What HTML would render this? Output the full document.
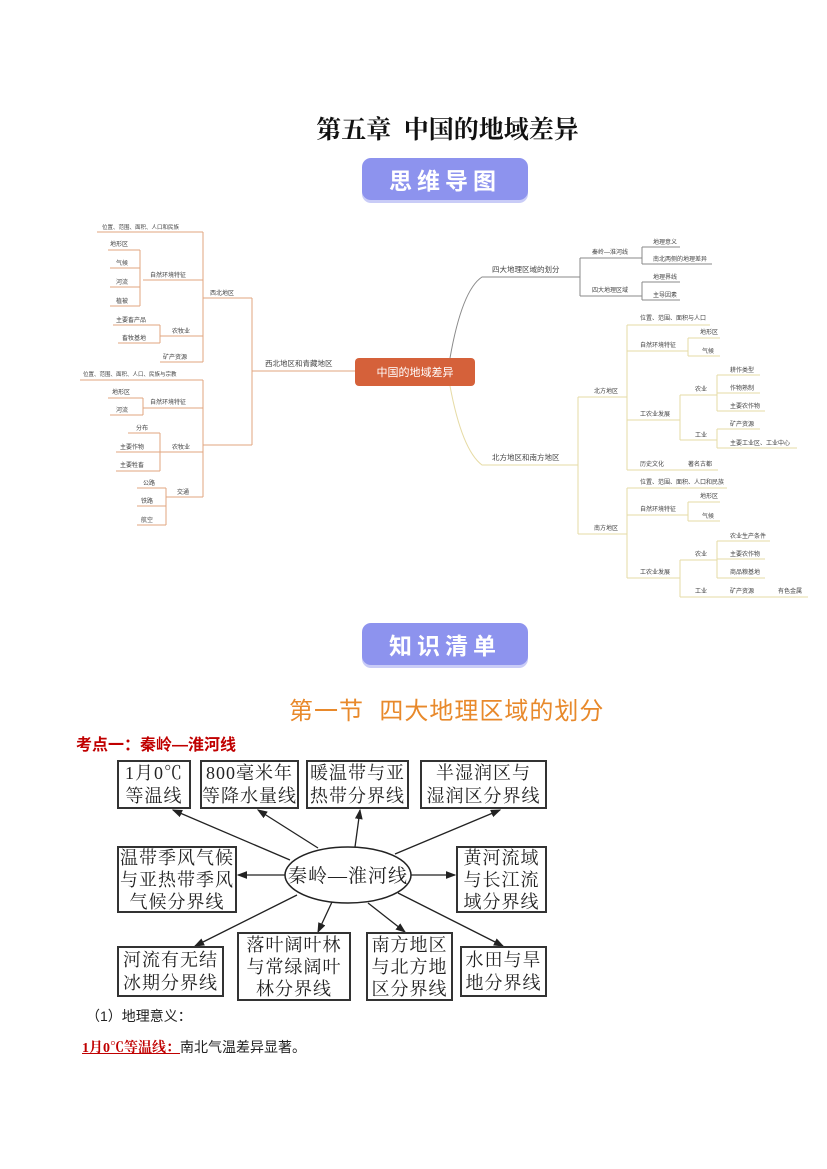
<!DOCTYPE html>
<html><head><meta charset="utf-8">
<style>
body{margin:0;background:#fff;}
#p{position:relative;width:827px;height:1169px;overflow:hidden;font-family:"Liberation Sans","Noto Sans CJK SC",sans-serif;}
.a{position:absolute;}
.bx{position:absolute;border:2px solid #333;box-sizing:border-box;display:flex;align-items:center;justify-content:center;text-align:center;font-family:"Liberation Serif","Noto Serif CJK SC",serif;font-size:18px;line-height:23px;letter-spacing:1px;white-space:nowrap;color:#222;background:#fff;}
.ban{position:absolute;width:166px;height:42px;background:#8d93ee;border-radius:9px;color:#fff;font-weight:bold;font-size:23px;letter-spacing:5px;display:flex;align-items:center;justify-content:center;box-shadow:0 3px 0 #c9ccf7;}
svg text{font-family:"Liberation Sans","Noto Sans CJK SC",sans-serif;fill:#444;}
</style></head><body><div id="p">
<div class="a" style="left:0;width:895px;top:110px;text-align:center;font-family:'Liberation Serif','Noto Serif CJK SC',serif;font-weight:bold;font-size:25px;color:#111;">第五章&nbsp; 中国的地域差异</div>
<div class="ban" style="left:362px;top:158px;">思维导图</div>
<div class="ban" style="left:362px;top:623px;">知识清单</div>
<div class="a" style="left:289px;top:691px;font-size:24px;color:#e8892b;letter-spacing:1px;white-space:nowrap;">第一节&nbsp; 四大地理区域的划分</div>
<div class="a" style="left:76px;top:731px;font-size:16px;font-weight:bold;color:#c00000;">考点一：秦岭—淮河线</div>

<svg class="a" style="left:0;top:0" width="827" height="1169">
<g fill="none" stroke-width="1">
<g stroke="#e2a57f">
<path d="M355,371 L252,371 M252,298 L252,445 M203,298 L252,298 M203,445 L252,445"/>
<path d="M203,232 L203,362 M97,232 L203,232 M143,280 L203,280 M160,336 L203,336 M160,362 L203,362"/>
<path d="M140,250 L140,306 M108,250 L140,250 M110,268 L140,268 M110,287 L140,287 M110,306 L140,306"/>
<path d="M160,325 L160,343 M113,325 L160,325 M118,343 L160,343"/>
<path d="M203,380 L203,497 M80,380 L203,380 M143,408 L203,408 M160,452 L203,452 M166,497 L203,497"/>
<path d="M143,398 L143,415 M108,398 L143,398 M110,415 L143,415"/>
<path d="M160,433 L160,471 M128,433 L160,433 M116,452 L160,452 M116,471 L160,471"/>
<path d="M166,488 L166,525 M137,488 L166,488 M137,506 L166,506 M137,525 L166,525"/>
</g>
<g stroke="#8a8a8a">
<path d="M450,358 Q462,290 482,277 L580,277 M580,258 L580,296 M580,258 L640,258 M580,296 L640,296"/>
<path d="M642,247 L642,264 M640,258 L642,258 M642,247 L680,247 M642,264 L712,264 M642,282 L642,300 M640,296 L642,296 M642,282 L680,282 M642,300 L680,300"/>
</g>
<g stroke="#e6dba5">
<path d="M450,386 Q462,450 482,465 L578,465 M578,397 L578,534 M578,397 L627,397 M578,534 L627,534"/>
<path d="M627,325 L627,470 M627,325 L710,325 M627,351 L688,351 M627,420 L680,420 M627,470 L718,470"/>
<path d="M688,338 L688,356 M688,338 L720,338 M688,356 L720,356"/>
<path d="M680,395 L680,440 M680,395 L717,395 M680,440 L717,440"/>
<path d="M717,375 L717,411 M717,375 L760,375 M717,393 L760,393 M717,411 L765,411"/>
<path d="M717,429 L717,448 M717,429 L760,429 M717,448 L797,448"/>
<path d="M627,488 L627,578 M627,488 L727,488 M627,515 L688,515 M627,578 L680,578"/>
<path d="M688,502 L688,521 M688,502 L720,502 M688,521 L720,521"/>
<path d="M680,560 L680,597 M680,560 L717,560 M680,597 L808,597"/>
<path d="M717,541 L717,578 M717,541 L770,541 M717,559 L765,559 M717,578 L765,578"/>
</g>
</g>
<rect x="355" y="358" width="120" height="28" rx="4" fill="#d5613a"/>
<text x="415" y="376" text-anchor="middle" style="fill:#fff;font-size:11px">中国的地域差异</text>
<g font-size="6">
<text x="102" y="229" font-size="5.5">位置、范围、面积、人口和民族</text>
<text x="210" y="295">西北地区</text>
<text x="150" y="277">自然环境特征</text>
<text x="172" y="333">农牧业</text>
<text x="163" y="359">矿产资源</text>
<text x="110" y="246">地形区</text><text x="116" y="265">气候</text><text x="116" y="284">河流</text><text x="116" y="303">植被</text>
<text x="116" y="322">主要畜产品</text><text x="122" y="340">畜牧基地</text>
<text x="83" y="376" font-size="5.5">位置、范围、面积、人口、民族与宗教</text>
<text x="150" y="404">自然环境特征</text><text x="172" y="449">农牧业</text><text x="177" y="494">交通</text>
<text x="112" y="394">地形区</text><text x="116" y="412">河流</text>
<text x="136" y="430">分布</text><text x="120" y="449">主要作物</text><text x="120" y="467">主要牲畜</text>
<text x="143" y="485">公路</text><text x="141" y="503">铁路</text><text x="141" y="522">航空</text>
<text x="265" y="366" font-size="7.5">西北地区和青藏地区</text>
<text x="492" y="272" font-size="7.5">四大地理区域的划分</text>
<text x="592" y="254">秦岭—淮河线</text><text x="592" y="292">四大地理区域</text>
<text x="653" y="244">地理意义</text><text x="653" y="261">南北两侧的地理差异</text>
<text x="653" y="279">地理界线</text><text x="653" y="297">主导因素</text>
<text x="492" y="460" font-size="7.5">北方地区和南方地区</text>
<text x="594" y="393">北方地区</text><text x="594" y="530">南方地区</text>
<text x="640" y="320">位置、范围、面积与人口</text><text x="640" y="347">自然环境特征</text>
<text x="640" y="416">工农业发展</text><text x="640" y="466">历史文化</text><text x="688" y="466">著名古都</text>
<text x="700" y="334">地形区</text><text x="702" y="353">气候</text>
<text x="695" y="391">农业</text><text x="695" y="437">工业</text>
<text x="730" y="372">耕作类型</text><text x="730" y="390">作物熟制</text><text x="730" y="408">主要农作物</text>
<text x="730" y="426">矿产资源</text><text x="730" y="445">主要工业区、工业中心</text>
<text x="640" y="484">位置、范围、面积、人口和民族</text><text x="640" y="511">自然环境特征</text><text x="640" y="574">工农业发展</text>
<text x="700" y="498">地形区</text><text x="702" y="518">气候</text>
<text x="695" y="556">农业</text><text x="695" y="593">工业</text>
<text x="730" y="538">农业生产条件</text><text x="730" y="556">主要农作物</text><text x="730" y="574">商品粮基地</text>
<text x="730" y="593">矿产资源</text><text x="778" y="593">有色金属</text>
</g>
<defs><marker id="ar" markerWidth="8" markerHeight="8" refX="7" refY="3" orient="auto"><path d="M0,0 L8,3 L0,6 Z" fill="#222"/></marker></defs>
<g stroke="#222" stroke-width="1.3" marker-end="url(#ar)">
<line x1="290" y1="860" x2="173" y2="810"/>
<line x1="318" y1="848" x2="258" y2="810"/>
<line x1="355" y1="847" x2="360" y2="810"/>
<line x1="395" y1="854" x2="500" y2="810"/>
<line x1="285" y1="875" x2="238" y2="875"/>
<line x1="411" y1="875" x2="455" y2="875"/>
<line x1="297" y1="895" x2="195" y2="946"/>
<line x1="332" y1="902" x2="318" y2="932"/>
<line x1="368" y1="903" x2="405" y2="932"/>
<line x1="398" y1="893" x2="503" y2="946"/>
</g>
<ellipse cx="348" cy="875" rx="63" ry="28" fill="#fff" stroke="#222" stroke-width="1.5"/>
<text x="348" y="882" text-anchor="middle" style="font-family:'Liberation Serif','Noto Serif CJK SC',serif;font-size:19px;fill:#222;letter-spacing:1px">秦岭—淮河线</text>
</svg>

<div class="bx" style="left:117px;top:760px;width:74px;height:49px;">1月0℃<br>等温线</div>
<div class="bx" style="left:200px;top:760px;width:99px;height:49px;">800毫米年<br>等降水量线</div>
<div class="bx" style="left:306px;top:760px;width:103px;height:49px;">暖温带与亚<br>热带分界线</div>
<div class="bx" style="left:420px;top:760px;width:127px;height:49px;">半湿润区与<br>湿润区分界线</div>
<div class="bx" style="left:117px;top:846px;width:120px;height:67px;line-height:22px;">温带季风气候<br>与亚热带季风<br>气候分界线</div>
<div class="bx" style="left:456px;top:846px;width:91px;height:67px;line-height:22px;">黄河流域<br>与长江流<br>域分界线</div>
<div class="bx" style="left:117px;top:946px;width:107px;height:51px;">河流有无结<br>冰期分界线</div>
<div class="bx" style="left:237px;top:932px;width:114px;height:69px;line-height:22px;">落叶阔叶林<br>与常绿阔叶<br>林分界线</div>
<div class="bx" style="left:366px;top:932px;width:87px;height:69px;line-height:22px;">南方地区<br>与北方地<br>区分界线</div>
<div class="bx" style="left:460px;top:946px;width:87px;height:51px;">水田与旱<br>地分界线</div>

<div class="a" style="left:86px;top:1006px;font-size:14px;color:#222;">（1）地理意义：</div>
<div class="a" style="left:82px;top:1037px;font-size:14px;color:#222;"><span style="color:#c00000;font-weight:bold;text-decoration:underline;font-family:'Liberation Serif','Noto Serif CJK SC',serif;">1月0℃等温线：</span>南北气温差异显著。</div>
</div></body></html>
